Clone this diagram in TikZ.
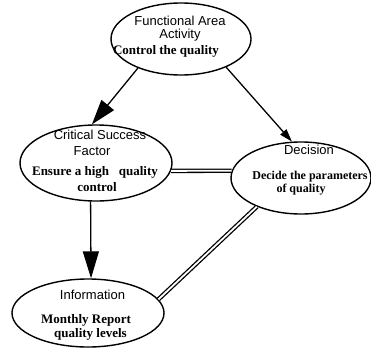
\documentclass[tikz,border=0pt]{standalone}
\usepackage{fontspec}
\setmainfont{Liberation Serif}
\setsansfont{Liberation Sans}
\usetikzlibrary{shapes.geometric,arrows.meta}
\tikzset{
  oval/.style={draw, ellipse, line width=1.4pt, inner sep=0pt},
  sanslbl/.style={anchor=base, inner sep=0pt, font=\sffamily\fontsize{13}{15}\selectfont},
  seriflbl/.style={anchor=base, inner sep=0pt, font=\rmfamily\bfseries\fontsize{13}{15}\selectfont},
  bigarrow/.style={line width=1.3pt, -{Triangle[length=25pt,width=16pt]}},
  smallarrow/.style={line width=1.3pt, -{Triangle[length=13pt,width=8pt]}},
  link/.style={line width=1.3pt, double, double distance=1.8pt}
}
\begin{document}
\begin{tikzpicture}[x=1pt,y=-1pt]
\useasboundingbox (0,0) rectangle (371,348);
% ellipses
\node[oval, minimum width=140pt, minimum height=72pt] (e1) at (181,39) {};
\node[oval, minimum width=152pt, minimum height=76pt] (e2) at (96,163) {};
\node[oval, minimum width=140pt, minimum height=72pt] (e3) at (301,178) {};
\node[oval, minimum width=152pt, minimum height=68pt] (e4) at (88,313) {};
% connectors
\draw[bigarrow] (e1.214) -- (e2.96);
\draw[smallarrow] (e1.328) -- (e3.104);
\draw[bigarrow, -{Triangle[length=27pt,width=16pt]}] (e2.262) -- (e4.85);
\draw[link] (e2.-6) -- (e3.174);
\draw[link] (e3.213) -- (e4.11.5);
% texts
\node[sanslbl] (t1a) at (180,25.5) {Functional Area};
\node[sanslbl] (t1b) at (180,38.5) {Activity};
\node[seriflbl] (t1c) at (166,54) {Control the quality};
\node[sanslbl] (t2a) at (100,139) {Critical Success};
\node[sanslbl] (t2b) at (92,155) {Factor};
\node[seriflbl] (t2c) at (95,175) {Ensure a high\hspace{0.75em}quality};
\node[seriflbl] (t2d) at (97,191) {control};
\node[sanslbl] (t3a) at (309,154) {Decision};
\node[seriflbl, font=\rmfamily\bfseries\fontsize{12}{14}\selectfont] (t3b) at (310,179) {Decide the parameters};
\node[seriflbl, font=\rmfamily\bfseries\fontsize{12}{14}\selectfont] (t3c) at (301,192) {of quality};
\node[sanslbl] (t4a) at (92.5,299) {Information};
\node[seriflbl] (t4b) at (86,323) {Monthly Report};
\node[seriflbl] (t4c) at (90.5,337) {quality levels};
\end{tikzpicture}
\end{document}
